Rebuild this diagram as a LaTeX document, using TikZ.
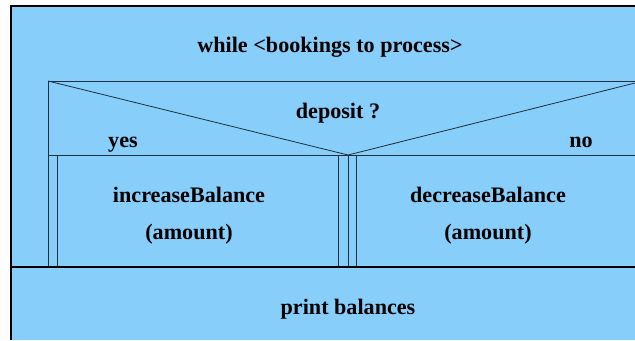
\documentclass[tikz,border=0pt]{standalone}
\usepackage{fontspec}
\setmainfont{Liberation Serif}
\definecolor{nsfill}{HTML}{87CEFA}
\definecolor{nsline}{HTML}{1F2F3F}

\begin{document}
\begin{tikzpicture}[x=0.75pt,y=0.75pt,yscale=-1,xscale=1,
	nsline/.style={draw=nsline,line width=0.6pt},
	lbl/.style={font=\fontsize{16.6}{19}\selectfont\bfseries,inner sep=0pt,anchor=base}]
			\useasboundingbox (0,0) rectangle (635,340);
			% outer loop block
			\fill[nsfill] (11,6) rectangle (635,340);
			\draw[black,line width=0.8pt] (11,340) -- (11,6) -- (635,6);
			% decision block
			\draw[nsline]    (48,267) -- (48,81) -- (635,81) ;
			\draw[nsline]    (48,81) -- (348,155) -- (635,83) ;
			\draw[nsline]    (48,155) -- (635,155) ;
			% branches
			\draw[nsline]    (57,155) -- (57,267) ;
			\draw[nsline]    (338,155) -- (338,267) ;
			\draw[nsline]    (348,155) -- (348,267) ;
			\draw[nsline]    (356,155) -- (356,267) ;
			\draw[black,line width=0.8pt]    (11,267) -- (635,267) ;
			
			
			\node[lbl] (loop) at (330,52) {while <bookings to process>};
			\node[lbl] (cond) at (338,118) {deposit ?};
			\node[lbl] (yes) at (123,147) {yes};
			\node[lbl] (no) at (581,147) {no};
			\node[lbl] (inc) at (189,202) {increaseBalance};
			\node[lbl] (incarg) at (189,239) {(amount)};
			\node[lbl] (dec) at (488,202) {decreaseBalance};
			\node[lbl] (decarg) at (488,239) {(amount)};
			\node[lbl] (print) at (348,314) {print balances};
			\end{tikzpicture}
\end{document}
